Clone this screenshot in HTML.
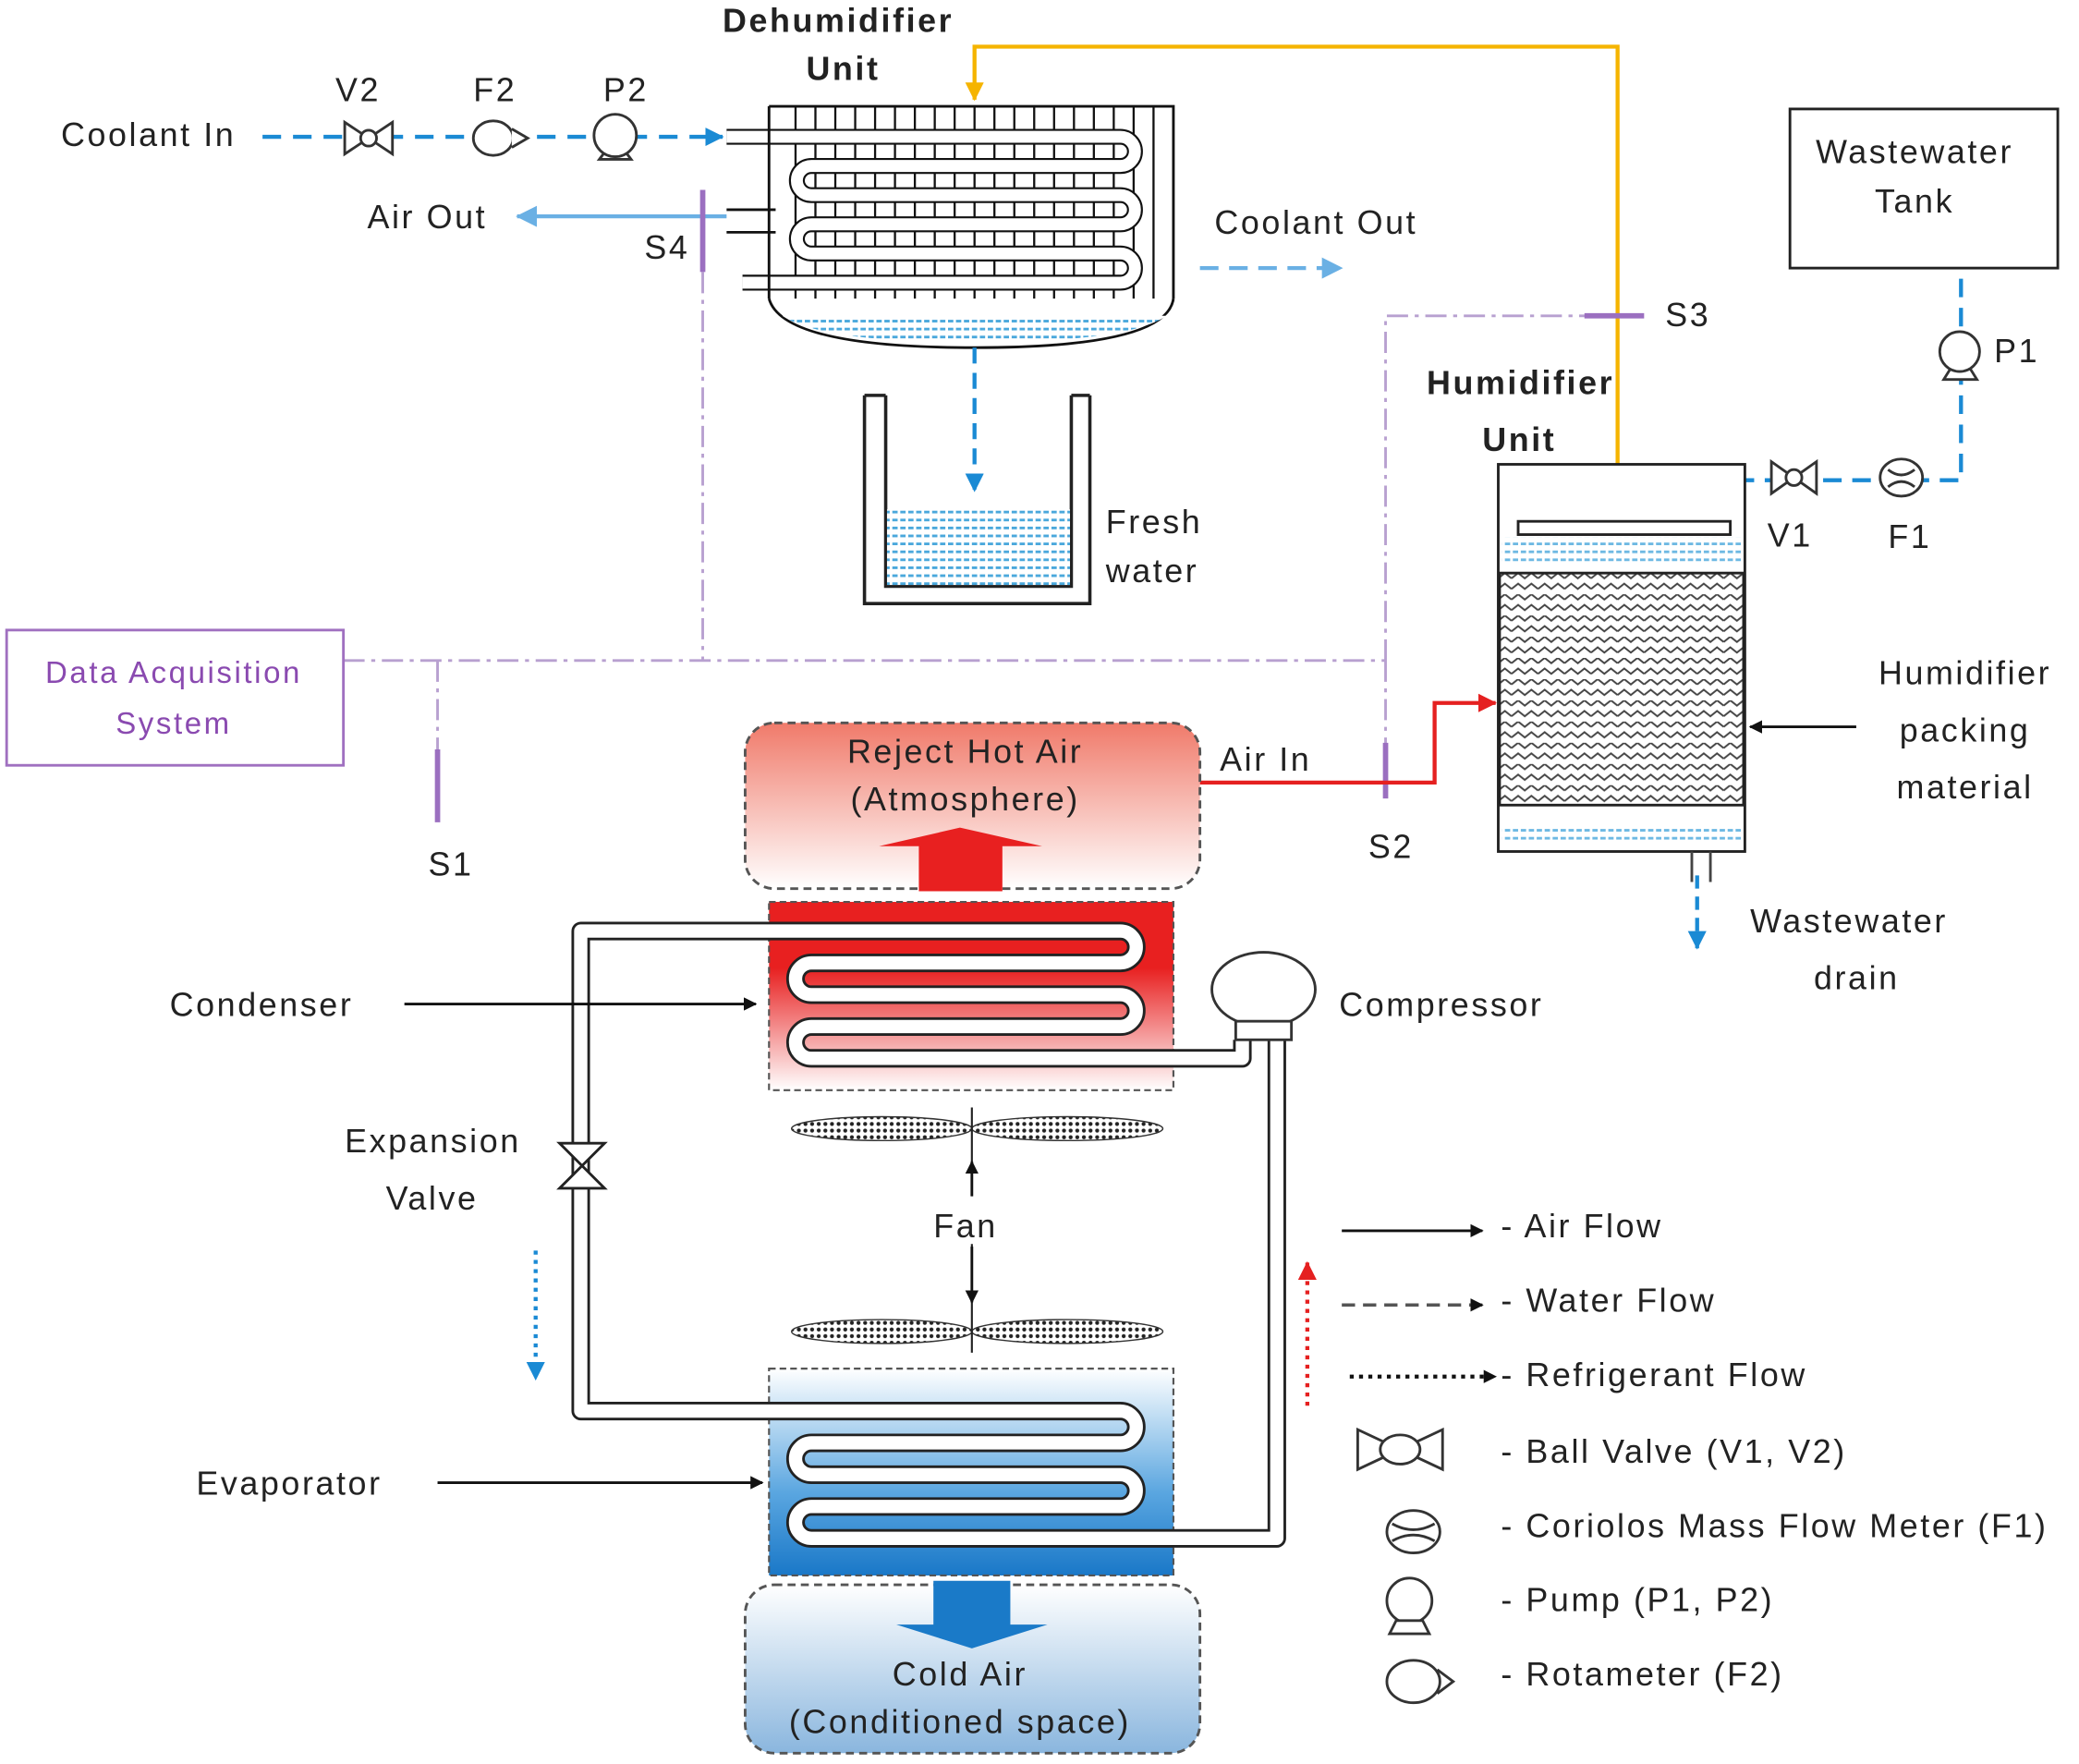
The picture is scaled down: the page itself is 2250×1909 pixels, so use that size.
<!DOCTYPE html>
<html><head><meta charset="utf-8"><style>
html,body{margin:0;padding:0;background:#fff}
svg{display:block}
text{font-family:"Liberation Sans",sans-serif;font-size:25px;fill:#222;letter-spacing:1.8px}
</style></head><body>
<svg width="2250" height="1909" viewBox="0 0 1568 1330" xmlns="http://www.w3.org/2000/svg">
<defs>
<linearGradient id="gRed" x1="0" y1="0" x2="0" y2="1"><stop offset="0" stop-color="#e82020"/><stop offset="0.35" stop-color="#e82020"/><stop offset="1" stop-color="#fff"/></linearGradient>
<linearGradient id="gBlue" x1="0" y1="0" x2="0" y2="1"><stop offset="0" stop-color="#fff"/><stop offset="0.6" stop-color="#5aa6e0"/><stop offset="1" stop-color="#1a78c8"/></linearGradient>
<linearGradient id="gHot" x1="0" y1="0" x2="0" y2="1"><stop offset="0" stop-color="#f07a6a"/><stop offset="1" stop-color="#fff"/></linearGradient>
<linearGradient id="gCold" x1="0" y1="0" x2="0" y2="1"><stop offset="0" stop-color="#fff"/><stop offset="1" stop-color="#8ab6de"/></linearGradient>
<pattern id="zz" width="20" height="16" patternUnits="userSpaceOnUse"><path d="M0 4 L5 0 L10 4 L15 0 L20 4 M0 12 L5 8 L10 12 L15 8 L20 12" fill="none" stroke="#444" stroke-width="1.4"/></pattern>
<pattern id="dots" width="6" height="6" patternUnits="userSpaceOnUse"><rect width="6" height="6" fill="#fff"/><rect x="1" y="1" width="4" height="2" fill="#4aa8dc"/></pattern>
<pattern id="fan" width="5" height="5" patternUnits="userSpaceOnUse"><rect width="5" height="5" fill="#fff"/><circle cx="2.5" cy="2.5" r="1.5" fill="#222"/></pattern>
<marker id="aBlk" markerWidth="10" markerHeight="10" refX="9" refY="5" orient="auto" markerUnits="userSpaceOnUse"><path d="M0 0 L10 5 L0 10Z" fill="#111"/></marker>
<marker id="aBlu" markerWidth="14" markerHeight="14" refX="13" refY="7" orient="auto" markerUnits="userSpaceOnUse"><path d="M0 0 L14 7 L0 14Z" fill="#1a8ad4"/></marker>
<marker id="aLB2" markerWidth="16" markerHeight="16" refX="15" refY="8" orient="auto" markerUnits="userSpaceOnUse"><path d="M0 0 L16 8 L0 16Z" fill="#6ab0e4"/></marker>
<marker id="aY" markerWidth="14" markerHeight="14" refX="13" refY="7" orient="auto" markerUnits="userSpaceOnUse"><path d="M0 0 L14 7 L0 14Z" fill="#f5b400"/></marker>
<marker id="aR" markerWidth="14" markerHeight="14" refX="13" refY="7" orient="auto" markerUnits="userSpaceOnUse"><path d="M0 0 L14 7 L0 14Z" fill="#e52020"/></marker>
</defs>

<!-- Dehumidifier -->
<text x="545" y="24" font-weight="bold">Dehumidifier</text>
<text x="608" y="60" font-weight="bold">Unit</text>
<g stroke="#111" stroke-width="1.6">
<path d="M600 80V225 M615 80V225 M630 80V225 M645 80V225 M660 80V225 M675 80V225 M690 80V225 M705 80V225 M720 80V225 M735 80V225 M750 80V225 M765 80V225 M780 80V225 M795 80V225 M810 80V225 M825 80V225 M840 80V225 M855 80V225 M870 80V225"/>
</g>
<g fill="none">
<path d="M548 103 H845 A11 11 0 0 1 845 125 H612 A11 11 0 0 0 612 147 H845 A11 11 0 0 1 845 169 H612 A11 11 0 0 0 612 191 H845 A11 11 0 0 1 845 213 H560" stroke="#111" stroke-width="12"/>
<path d="M548 103 H845 A11 11 0 0 1 845 125 H612 A11 11 0 0 0 612 147 H845 A11 11 0 0 1 845 169 H612 A11 11 0 0 0 612 191 H845 A11 11 0 0 1 845 213 H560" stroke="#fff" stroke-width="9"/>
</g>
<g stroke="#111" stroke-width="2" fill="none">
<path d="M580 80 H885 V225 M580 80 V225"/>
<path d="M580 225 Q590 262 735 262 Q880 262 885 225"/>
<path d="M548 158 H585 M548 175 H585"/>
</g>
<path d="M590 238 Q620 258 735 258 Q850 258 880 238 Z" fill="url(#dots)"/>
<path d="M905 202 H1012" stroke="#6ab0e4" stroke-width="3" stroke-dasharray="14 8" marker-end="url(#aLB2)"/>
<text x="916" y="176">Coolant Out</text>
<path d="M735 262 V370" stroke="#1a8ad4" stroke-width="3" stroke-dasharray="12 7" marker-end="url(#aBlu)"/>
<path d="M652 298 V455 H822 V298 M668 298 V442 H808 V298 M652 298 H668 M808 298 H822" fill="none" stroke="#222" stroke-width="2.5"/>
<rect x="669" y="384" width="138" height="57" fill="url(#dots)"/>
<text x="834" y="402">Fresh</text><text x="834" y="439">water</text>

<!-- coolant in -->
<text x="46" y="110">Coolant In</text>
<text x="253" y="76">V2</text><text x="357" y="76">F2</text><text x="455" y="76">P2</text>
<path d="M198 103 H545" stroke="#1a8ad4" stroke-width="3" stroke-dasharray="14 9" marker-end="url(#aBlu)"/>
<g fill="#fff" stroke="#333" stroke-width="2">
<path d="M260 92 L260 116 L296 92 L296 116 Z"/><circle cx="278" cy="104" r="6"/>
<ellipse cx="372" cy="104" rx="15" ry="13"/><path d="M386 97 L398 104 L386 111"/>
<path d="M452 120 L458 112 H470 L476 120 Z"/><circle cx="464" cy="102" r="16"/>
</g>
<path d="M548 163 H390" stroke="#6ab0e4" stroke-width="3" marker-end="url(#aLB2)"/>
<text x="277" y="172">Air Out</text>
<text x="486" y="195">S4</text>
<path d="M530 143 V205" stroke="#9b6fc0" stroke-width="4"/>

<path d="M1220 350 V35 H735 V75" fill="none" stroke="#f5b400" stroke-width="3" marker-end="url(#aY)"/>

<g fill="none" stroke="#b8a0d0" stroke-width="2" stroke-dasharray="16 5 3 5">
<path d="M530 205 V498 M259 498 H1045 M1045 498 V238 H1200 M1045 498 V598 M330 498 V615"/>
</g>
<path d="M1195 238 H1240" stroke="#9b6fc0" stroke-width="4"/>
<text x="1256" y="246">S3</text>
<path d="M330 565 V620" stroke="#9b6fc0" stroke-width="4"/>
<path d="M1045 560 V602" stroke="#9b6fc0" stroke-width="4"/>
<text x="323" y="660">S1</text><text x="1032" y="647">S2</text>
<rect x="5" y="475" width="254" height="102" fill="#fff" stroke="#a070c0" stroke-width="2"/>
<text x="131" y="515" text-anchor="middle" style="fill:#8a4ab0;font-size:23px">Data Acquisition</text>
<text x="131" y="553" text-anchor="middle" style="fill:#8a4ab0;font-size:23px">System</text>

<!-- Wastewater tank -->
<rect x="1350" y="82" width="202" height="120" fill="#fff" stroke="#222" stroke-width="2"/>
<text x="1444" y="123" text-anchor="middle">Wastewater</text>
<text x="1444" y="160" text-anchor="middle">Tank</text>
<path d="M1479 210 V362 H1220 V388" fill="none" stroke="#1a8ad4" stroke-width="3" stroke-dasharray="14 8" marker-end="url(#aBlu)"/>
<g fill="#fff" stroke="#333" stroke-width="2">
<path d="M1466 286 L1471 278 H1486 L1491 286 Z"/><circle cx="1478" cy="265" r="15"/>
<ellipse cx="1434" cy="360" rx="16" ry="14"/><path d="M1424 354 Q1434 362 1444 354 M1424 367 Q1434 359 1444 367"/>
<path d="M1336 348 L1336 372 L1370 348 L1370 372 Z"/><circle cx="1353" cy="360" r="6"/>
</g>
<text x="1504" y="273">P1</text><text x="1333" y="412">V1</text><text x="1424" y="413">F1</text>

<!-- Humidifier -->
<text x="1076" y="297" font-weight="bold">Humidifier</text>
<text x="1118" y="340" font-weight="bold">Unit</text>
<rect x="1130" y="350" width="186" height="292" fill="#fff" stroke="#222" stroke-width="2"/>
<rect x="1145" y="393" width="160" height="10" fill="#fff" stroke="#222" stroke-width="2"/>
<rect x="1133" y="405" width="180" height="20" fill="url(#dots)" opacity="0.8"/>
<rect x="1131" y="432" width="184" height="175" fill="url(#zz)" stroke="#222" stroke-width="2"/>
<rect x="1133" y="622" width="180" height="14" fill="url(#dots)" opacity="0.8"/>
<path d="M1276 642 V665 M1290 642 V665" stroke="#444" stroke-width="2"/>
<path d="M1280 660 V715" stroke="#1a8ad4" stroke-width="3" stroke-dasharray="10 6" marker-end="url(#aBlu)"/>
<text x="1320" y="703">Wastewater</text><text x="1368" y="746">drain</text>
<path d="M1400 548 H1320" stroke="#111" stroke-width="2" marker-end="url(#aBlk)"/>
<text x="1482" y="516" text-anchor="middle">Humidifier</text>
<text x="1482" y="559" text-anchor="middle">packing</text>
<text x="1482" y="602" text-anchor="middle">material</text>

<path d="M905 590 H1082 V530 H1128" fill="none" stroke="#e52020" stroke-width="3" marker-end="url(#aR)"/>
<text x="920" y="581">Air In</text>

<rect x="562" y="545" width="343" height="125" rx="22" fill="url(#gHot)" stroke="#555" stroke-width="2" stroke-dasharray="6 4"/>
<text x="728" y="575" text-anchor="middle">Reject Hot Air</text>
<text x="728" y="611" text-anchor="middle">(Atmosphere)</text>
<path d="M693 672 V638 H663 L724 624 L786 638 H756 V672 Z" fill="#e82020"/>

<rect x="580" y="680" width="305" height="142" fill="url(#gRed)" stroke="#555" stroke-width="1.5" stroke-dasharray="5 3"/>
<rect x="580" y="1032" width="305" height="156" fill="url(#gBlue)" stroke="#555" stroke-width="1.5" stroke-dasharray="5 3"/>

<!-- refrigerant tube loop -->
<g fill="none" stroke-linejoin="round">
<path d="M963 784 V1160 H612 A12 12 0 0 1 612 1136 H845 A12 12 0 0 0 845 1112 H612 A12 12 0 0 1 612 1088 H845 A12 12 0 0 0 845 1064 H438 V702 H845 A12 12 0 0 1 845 726 H612 A12 12 0 0 0 612 750 H845 A12 12 0 0 1 845 774 H612 A12 12 0 0 0 612 798 H937 V784" stroke="#222" stroke-width="14"/>
<path d="M963 784 V1160 H612 A12 12 0 0 1 612 1136 H845 A12 12 0 0 0 845 1112 H612 A12 12 0 0 1 612 1088 H845 A12 12 0 0 0 845 1064 H438 V702 H845 A12 12 0 0 1 845 726 H612 A12 12 0 0 0 612 750 H845 A12 12 0 0 1 845 774 H612 A12 12 0 0 0 612 798 H937 V784" stroke="#fff" stroke-width="10"/>
</g>

<text x="128" y="766">Condenser</text>
<path d="M305 757 H570" stroke="#111" stroke-width="2" marker-end="url(#aBlk)"/>

<ellipse cx="953" cy="746" rx="39" ry="28" fill="#fff" stroke="#333" stroke-width="2"/>
<rect x="932" y="770" width="42" height="14" fill="#fff" stroke="#333" stroke-width="2"/>
<text x="1010" y="766">Compressor</text>

<path d="M422 862 L456 862 L422 896 L456 896 Z" fill="#fff" stroke="#222" stroke-width="2"/>
<text x="260" y="869">Expansion</text><text x="291" y="912">Valve</text>
<path d="M404 943 V1040" stroke="#1a8ad4" stroke-width="3" stroke-dasharray="3 4" marker-end="url(#aBlu)"/>
<path d="M986 1060 V952" stroke="#e52020" stroke-width="3" stroke-dasharray="3 4" marker-end="url(#aR)"/>

<ellipse cx="665" cy="851" rx="68" ry="9" fill="url(#fan)" stroke="#333"/>
<ellipse cx="805" cy="851" rx="72" ry="9" fill="url(#fan)" stroke="#333"/>
<ellipse cx="665" cy="1004" rx="68" ry="9" fill="url(#fan)" stroke="#333"/>
<ellipse cx="805" cy="1004" rx="72" ry="9" fill="url(#fan)" stroke="#333"/>
<path d="M733 835 V1020" stroke="#222" stroke-width="1.5"/>
<rect x="700" y="902" width="60" height="36" fill="#fff"/>
<path d="M733 902 V876" stroke="#111" stroke-width="2" marker-end="url(#aBlk)"/>
<path d="M733 940 V982" stroke="#111" stroke-width="2" marker-end="url(#aBlk)"/>
<text x="704" y="933">Fan</text>

<text x="148" y="1127">Evaporator</text>
<path d="M330 1118 H575" stroke="#111" stroke-width="2" marker-end="url(#aBlk)"/>

<rect x="562" y="1195" width="343" height="127" rx="22" fill="url(#gCold)" stroke="#555" stroke-width="2" stroke-dasharray="6 4"/>
<path d="M704 1192 V1225 H676 L733 1243 L790 1225 H762 V1192 Z" fill="#1a7ac8"/>
<text x="724" y="1271" text-anchor="middle">Cold Air</text>
<text x="724" y="1307" text-anchor="middle">(Conditioned  space)</text>

<path d="M1012 928 H1118" stroke="#111" stroke-width="2" marker-end="url(#aBlk)"/>
<text x="1132" y="933">- Air Flow</text>
<path d="M1012 984 H1118" stroke="#555" stroke-width="2.5" stroke-dasharray="10 6" marker-end="url(#aBlk)"/>
<text x="1132" y="989">- Water Flow</text>
<path d="M1018 1038 H1128" stroke="#111" stroke-width="3" stroke-dasharray="3 4" marker-end="url(#aBlk)"/>
<text x="1132" y="1045">- Refrigerant Flow</text>
<path d="M1024 1078 L1024 1108 L1088 1078 L1088 1108 Z" fill="#fff" stroke="#333" stroke-width="2"/>
<ellipse cx="1056" cy="1093" rx="15" ry="11" fill="#fff" stroke="#333" stroke-width="2"/>
<text x="1132" y="1103">- Ball Valve (V1, V2)</text>
<ellipse cx="1066" cy="1155" rx="20" ry="16" fill="#fff" stroke="#333" stroke-width="2"/>
<path d="M1050 1149 Q1066 1158 1082 1149 M1050 1162 Q1066 1153 1082 1162" fill="none" stroke="#333" stroke-width="2"/>
<text x="1132" y="1159">- Coriolos Mass Flow Meter (F1)</text>
<circle cx="1063" cy="1207" r="17" fill="#fff" stroke="#333" stroke-width="2"/>
<path d="M1048 1232 L1053 1222 H1073 L1078 1232 Z" fill="#fff" stroke="#333" stroke-width="2"/>
<text x="1132" y="1215">- Pump (P1, P2)</text>
<ellipse cx="1066" cy="1268" rx="20" ry="16" fill="#fff" stroke="#333" stroke-width="2"/>
<path d="M1084 1259 L1096 1268 L1084 1277" fill="none" stroke="#333" stroke-width="2"/>
<text x="1132" y="1271">- Rotameter (F2)</text>
</svg>
</body></html>
